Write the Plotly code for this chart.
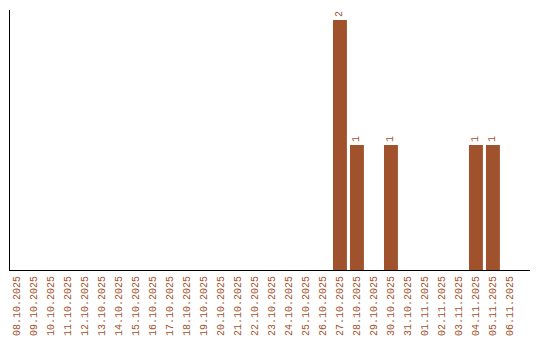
import plotly.graph_objects as go

dates = ["08.10.2025","09.10.2025","10.10.2025","11.10.2025","12.10.2025","13.10.2025",
         "14.10.2025","15.10.2025","16.10.2025","17.10.2025","18.10.2025","19.10.2025",
         "20.10.2025","21.10.2025","22.10.2025","23.10.2025","24.10.2025","25.10.2025",
         "26.10.2025","27.10.2025","28.10.2025","29.10.2025","30.10.2025","31.10.2025",
         "01.11.2025","02.11.2025","03.11.2025","04.11.2025","05.11.2025","06.11.2025"]
counts = [0,0,0,0,0,0,0,0,0,0,0,0,0,0,0,0,0,0,0,2,1,0,1,0,0,0,0,1,1,0]

color = "#A0522D"
labels = [str(v) if v else "" for v in counts]
font_family = "Liberation Mono"

fig = go.Figure(go.Bar(
    x=dates, y=counts, marker_color=color, marker_line_width=0,
    text=labels, textposition="outside", textangle=-90,
    textfont=dict(family=font_family, size=10, color=color),
    cliponaxis=False,
))
fig.update_layout(
    width=540, height=340, margin=dict(l=10, r=10, t=10, b=70),
    paper_bgcolor="white", plot_bgcolor="white", showlegend=False,
    bargap=0.18,
    font=dict(family=font_family, size=10, color=color),
)
fig.update_xaxes(type="category", range=[-0.41, 30.18], tickangle=-90,
                 showline=True, linecolor="black", linewidth=1, ticks="",
                 automargin=False, ticklabelstandoff=1,
                 showgrid=False, tickfont=dict(family=font_family, size=10, color=color))
fig.update_yaxes(range=[0, 2.08], showline=True, linecolor="black", linewidth=1,
                 showticklabels=False, ticks="", showgrid=False, zeroline=False)
fig.write_html("out.html")
